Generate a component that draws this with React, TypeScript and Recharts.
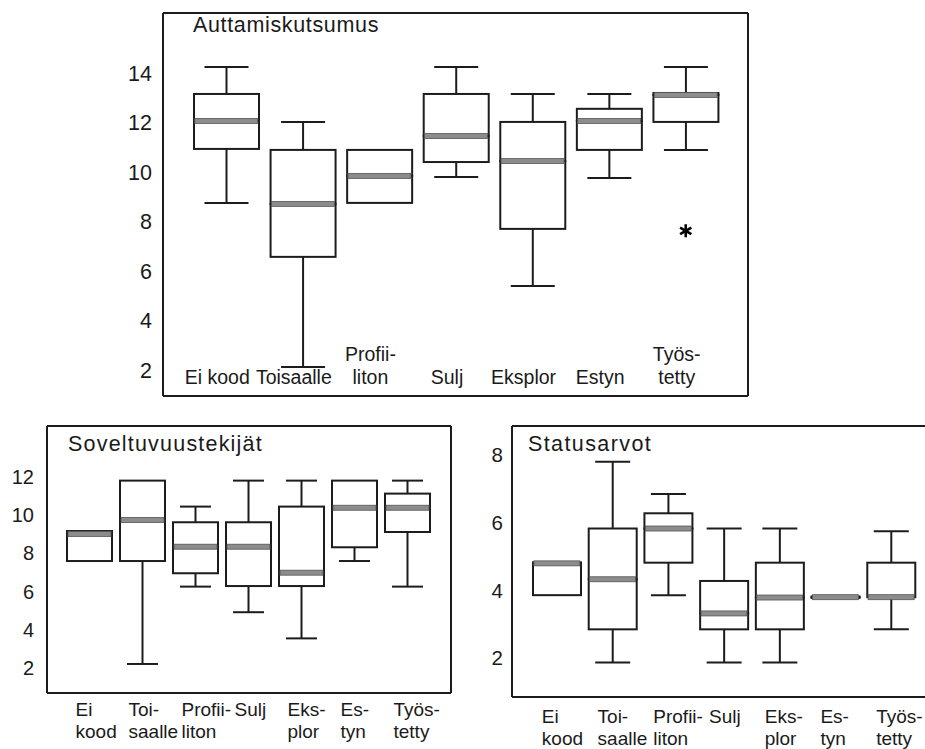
import React from "react";
import { ComposedChart, Bar, Scatter, XAxis, YAxis } from "recharts";

const topCategories = ["Ei kood", "Toisaalle", "Profii-\nliton", "Sulj", "Eksplor", "Estyn", "Työs-\ntetty"];
const bottomCategories = ["Ei\nkood", "Toi-\nsaalle", "Profii-\nliton", "Sulj", "Eks-\nplor", "Es-\ntyn", "Työs-\ntetty"];

// Auttamiskutsumus
const helpMin = [8.75, 2.12, 8.75, 9.8, 5.39, 9.76, 10.89];
const helpQ1 = [10.93, 6.57, 8.75, 10.4, 7.7, 10.89, 12.02];
const helpMedian = [12.06, 8.71, 9.84, 11.45, 10.44, 12.06, 13.11];
const helpQ3 = [13.15, 10.89, 10.89, 13.15, 12.02, 12.55, 13.19];
const helpMax = [14.24, 12.02, 10.89, 14.24, 13.15, 13.15, 14.24];
const helpOutliers = [null, null, null, null, null, null, 7.62];
const helpTicks = [2, 4, 6, 8, 10, 12, 14];

// Soveltuvuustekijät
const fitMin = [7.6, 2.21, 6.26, 4.92, 3.55, 7.6, 6.26];
const fitQ1 = [7.6, 7.6, 6.96, 6.29, 6.29, 8.32, 9.12];
const fitMedian = [9.02, 9.75, 8.35, 8.35, 6.99, 10.39, 10.39];
const fitQ3 = [9.17, 11.81, 9.63, 9.63, 10.45, 11.81, 11.13];
const fitMax = [9.17, 11.81, 10.45, 11.81, 11.81, 11.81, 11.81];
const fitTicks = [2, 4, 6, 8, 10, 12];

// Statusarvot
const statusMin = [3.86, 1.87, 3.86, 1.87, 1.87, 3.78, 2.85];
const statusQ1 = [3.86, 2.85, 4.82, 2.85, 2.85, 3.78, 3.8];
const statusMedian = [4.8, 4.33, 5.83, 3.32, 3.79, 3.8, 3.8];
const statusQ3 = [4.83, 5.83, 6.28, 4.28, 4.82, 3.82, 4.82];
const statusMax = [4.83, 7.8, 6.85, 5.83, 5.83, 3.82, 5.75];
const statusTicks = [2, 4, 6, 8];

const ink = "#1c1c1c";
const font = "'Liberation Sans', Arial, sans-serif";
const frameLine = { stroke: ink, strokeWidth: 2 };

type Num = number | null;

function buildRows(cats: string[], min: number[], q1: number[], med: number[], q3: number[], max: number[], out?: Num[]) {
  return cats.map((name, i) => ({
    name,
    base: min[i],
    lowWhisker: q1[i] - min[i],
    lowBox: med[i] - q1[i],
    highBox: q3[i] - med[i],
    highWhisker: max[i] - q3[i],
    median: med[i],
    outlier: out ? out[i] : null,
  }));
}

const helpRows = buildRows(topCategories, helpMin, helpQ1, helpMedian, helpQ3, helpMax, helpOutliers);
const fitRows = buildRows(bottomCategories, fitMin, fitQ1, fitMedian, fitQ3, fitMax);
const statusRows = buildRows(bottomCategories, statusMin, statusQ1, statusMedian, statusQ3, statusMax);

const hidden = () => <g />;

const lowWhisker = (capW: number) => (p: any) => {
  const { x, y, width, height } = p;
  if (!height || height < 0.5) return <g />;
  const cx = x + width / 2;
  const b = y + height;
  return (
    <g stroke={ink} strokeWidth={2}>
      <line x1={cx} x2={cx} y1={y} y2={b} />
      <line x1={cx - capW / 2} x2={cx + capW / 2} y1={b} y2={b} />
    </g>
  );
};

const highWhisker = (capW: number) => (p: any) => {
  const { x, y, width, height } = p;
  if (!height || height < 0.5) return <g />;
  const cx = x + width / 2;
  return (
    <g stroke={ink} strokeWidth={2}>
      <line x1={cx} x2={cx} y1={y} y2={y + height} />
      <line x1={cx - capW / 2} x2={cx + capW / 2} y1={y} y2={y} />
    </g>
  );
};

const boxPart = (p: any) => {
  const { x, y, width, height } = p;
  if (height == null || isNaN(height)) return <g />;
  return <rect x={x} y={y} width={width} height={Math.max(height, 0)} fill="none" stroke={ink} strokeWidth={2} />;
};

const medianMark = (w: number) => (p: any) => {
  const { cx, cy } = p;
  if (cx == null || cy == null || isNaN(cy)) return <g />;
  return <rect x={cx - w / 2 + 1} y={cy - 2.5} width={w - 2} height={5} fill="#8c8c8c" stroke="#555" strokeWidth={0.8} />;
};

const outlierMark = (p: any) => {
  const { cx, cy, payload } = p;
  if (payload == null || payload.outlier == null || cy == null || isNaN(cy)) return <g />;
  const r = 6.5;
  const dx = r * Math.cos(Math.PI / 6);
  const dy = r * Math.sin(Math.PI / 6);
  return (
    <g stroke="#000" strokeWidth={2.6}>
      <line x1={cx} x2={cx} y1={cy - r} y2={cy + r} />
      <line x1={cx - dx} x2={cx + dx} y1={cy - dy} y2={cy + dy} />
      <line x1={cx - dx} x2={cx + dx} y1={cy + dy} y2={cy - dy} />
    </g>
  );
};

const insideTick = (p: any) => {
  const { x, y, payload } = p;
  const lines: string[] = String(payload.value).split("\n");
  const last = y - 12;
  return (
    <text x={x - 9} y={0} textAnchor="middle" fontSize={19.5} fill="#1a1a1a" fontFamily={font}>
      {lines.map((l, i) => (
        <tspan key={i} x={x - 9} y={last - (lines.length - 1 - i) * 23}>
          {l}
        </tspan>
      ))}
    </text>
  );
};

const belowTick = (shift: number, first: number) => (p: any) => {
  const { x, y, payload } = p;
  const lines: string[] = String(payload.value).split("\n");
  return (
    <text x={x + shift} y={0} textAnchor="start" fontSize={19} fill="#1a1a1a" fontFamily={font}>
      {lines.map((l, i) => (
        <tspan key={i} x={x + shift} y={y + first + i * 22}>
          {l}
        </tspan>
      ))}
    </text>
  );
};

interface PanelProps {
  rows: any[];
  left: number;
  top: number;
  width: number;
  height: number;
  margin: { top: number; right: number; left: number; bottom: number };
  yWidth: number;
  xHeight: number;
  pad: { left: number; right: number };
  domain: [number, number];
  ticks: number[];
  tickGap: number;
  tickFont: number;
  boxW: number;
  capW: number;
  tick: any;
  withOutliers?: boolean;
}

function BoxPanel(props: PanelProps) {
  const { rows, left, top, width, height, margin, yWidth, xHeight, pad, domain, ticks, tickGap, tickFont, boxW, capW, tick } = props;
  // the frame's top and right sides are drawn by 1px-wide helper axes
  const m = { ...margin, top: margin.top - 1, right: margin.right - 1 };
  return (
    <div style={{ position: "absolute", left, top }}>
      <ComposedChart width={width} height={height} data={rows} margin={m}>
        <XAxis
          dataKey="name"
          type="category"
          height={xHeight}
          padding={pad}
          axisLine={frameLine}
          tickLine={false}
          tickSize={0}
          tickMargin={0}
          interval={0}
          tick={tick}
        />
        <XAxis xAxisId="top" orientation="top" dataKey="name" height={1} axisLine={frameLine} tickLine={false} tick={false} />
        <YAxis
          type="number"
          width={yWidth}
          domain={domain}
          allowDataOverflow
          ticks={ticks}
          axisLine={frameLine}
          tickLine={false}
          tickSize={0}
          tickMargin={tickGap}
          tick={{ fontSize: tickFont, fill: "#1a1a1a", fontFamily: font }}
        />
        <YAxis yAxisId="right" orientation="right" width={1} axisLine={frameLine} tickLine={false} tick={false} />
        <Bar dataKey="base" stackId="b" barSize={boxW} shape={hidden} isAnimationActive={false} />
        <Bar dataKey="lowWhisker" stackId="b" barSize={boxW} shape={lowWhisker(capW)} isAnimationActive={false} />
        <Bar dataKey="lowBox" stackId="b" barSize={boxW} shape={boxPart} isAnimationActive={false} />
        <Bar dataKey="highBox" stackId="b" barSize={boxW} shape={boxPart} isAnimationActive={false} />
        <Bar dataKey="highWhisker" stackId="b" barSize={boxW} shape={highWhisker(capW)} isAnimationActive={false} />
        <Scatter dataKey="median" shape={medianMark(boxW)} isAnimationActive={false} />
        {props.withOutliers && <Scatter dataKey="outlier" shape={outlierMark} isAnimationActive={false} />}
      </ComposedChart>
    </div>
  );
}

export default function App() {
  return (
    <div
      style={{
        position: "absolute",
        left: 0,
        top: 0,
        width: 925,
        height: 749,
        overflow: "hidden",
        background: "#fff",
        fontFamily: font,
        color: "#1a1a1a",
      }}
    >
      <BoxPanel
        rows={helpRows}
        left={0}
        top={0}
        width={760}
        height={420}
        margin={{ top: 13, right: 12, left: 0, bottom: 0 }}
        yWidth={163}
        xHeight={24}
        pad={{ left: 25, right: 24 }}
        domain={[0.95, 16.42]}
        ticks={helpTicks}
        tickGap={11}
        tickFont={21.5}
        boxW={65}
        capW={44}
        tick={insideTick}
        withOutliers
      />
      <BoxPanel
        rows={fitRows}
        left={0}
        top={400}
        width={470}
        height={349}
        margin={{ top: 26, right: 19, left: 0, bottom: 0 }}
        yWidth={47}
        xHeight={56}
        pad={{ left: 16, right: 17 }}
        domain={[0.69, 14.67]}
        ticks={fitTicks}
        tickGap={13}
        tickFont={20}
        boxW={45}
        capW={31}
        tick={belowTick(-14, 23)}
      />
      <BoxPanel
        rows={statusRows}
        left={460}
        top={400}
        width={500}
        height={349}
        margin={{ top: 26, right: 24, left: 0, bottom: 0 }}
        yWidth={52}
        xHeight={52}
        pad={{ left: 17, right: 17 }}
        domain={[0.85, 8.86]}
        ticks={statusTicks}
        tickGap={9}
        tickFont={20.5}
        boxW={48}
        capW={35}
        tick={belowTick(-15, 26)}
      />
      <div style={{ position: "absolute", left: 193, top: 15, fontSize: 21.5, lineHeight: 1, letterSpacing: 0.65, whiteSpace: "nowrap" }}>
        Auttamiskutsumus
      </div>
      <div style={{ position: "absolute", left: 68, top: 433.5, fontSize: 21.5, lineHeight: 1, letterSpacing: 1.2, whiteSpace: "nowrap" }}>
        Soveltuvuustekijät
      </div>
      <div style={{ position: "absolute", left: 528, top: 433.5, fontSize: 21.5, lineHeight: 1, letterSpacing: 1.4, whiteSpace: "nowrap" }}>
        Statusarvot
      </div>
    </div>
  );
}
